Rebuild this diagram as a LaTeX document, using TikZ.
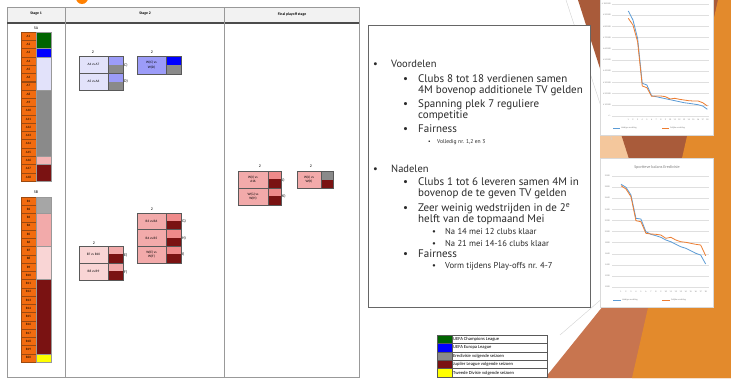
\documentclass[tikz,border=0pt]{standalone}
\usepackage{fontspec}
\setmainfont{Carlito}
\newfontfamily\slidefont{PT Sans}
\definecolor{cellor}{HTML}{F26B0F}
\definecolor{cellorb}{HTML}{9C4A10}
\definecolor{clgreen}{HTML}{006400}
\definecolor{elblue}{HTML}{0000FF}
\definecolor{lav}{HTML}{E2E2FA}
\definecolor{midgray}{HTML}{8A8A8A}
\definecolor{lgray}{HTML}{A6A6A6}
\definecolor{pinkA}{HTML}{F4B4B4}
\definecolor{dred}{HTML}{7A1212}
\definecolor{lpink}{HTML}{F9D5D5}
\definecolor{mpink}{HTML}{F2AAAA}
\definecolor{salmon}{HTML}{EF8A8A}
\definecolor{purp}{HTML}{9C9CF8}
\definecolor{yel}{HTML}{FFFF00}
\definecolor{hdr}{HTML}{F2F2F2}
\definecolor{cblue}{HTML}{5B9BD5}
\definecolor{corange}{HTML}{ED7D31}
\definecolor{bgorange}{HTML}{E38A2C}
\definecolor{bgbrown}{HTML}{A95B3A}
\definecolor{bgbrown2}{HTML}{C8754F}
\definecolor{bgpeach}{HTML}{F4C79C}
\definecolor{txt}{HTML}{2A2A2A}
\tikzset{
  cellbox/.style={draw=cellorb, fill=cellor, line width=0.4, minimum width=15pt, minimum height=8.2pt, inner sep=0pt, font=\fontsize{3.3}{4}\selectfont},
  colbox/.style={draw=gray!80, line width=0.3},
  matchcell/.style={inner sep=0pt, align=center, font=\fontsize{3.4}{4.2}\selectfont},
  frame/.style={draw=gray!70!black, line width=0.6},
  tiny/.style={inner sep=0pt, font=\fontsize{4}{5}\selectfont},
  hdrtext/.style={inner sep=0pt, font=\bfseries\fontsize{3.8}{4.5}\selectfont},
  lone/.style={inner sep=0pt, anchor=base west, text=txt, font=\slidefont\fontsize{10.5}{13}\selectfont},
  ltwo/.style={inner sep=0pt, anchor=base west, text=txt, font=\slidefont\fontsize{11}{12}\selectfont},
  lthree/.style={inner sep=0pt, anchor=base west, text=txt, font=\slidefont\fontsize{8.6}{9}\selectfont},
  lsmall/.style={inner sep=0pt, anchor=base west, text=txt, font=\slidefont\fontsize{5.6}{7}\selectfont},
  legtext/.style={inner sep=0pt, anchor=west, font=\fontsize{4.6}{5.5}\selectfont},
  axlab/.style={inner sep=0pt, text=gray, font=\fontsize{2.2}{2.6}\selectfont},
  grid/.style={draw=gray!25, line width=0.3},
  bl/.style={draw=cblue, line width=0.8, line join=round},
  ol/.style={draw=corange, line width=0.8, line join=round}
}
\begin{document}
\begin{tikzpicture}[x=1pt,y=-1pt]
\useasboundingbox (0,0) rectangle (731,378);
\fill[white] (0,0) rectangle (731,378);
% background decoration
\fill[bgpeach] (600,95) -- (645,95) -- (640,210) -- (600,210) -- cycle;
\fill[bgbrown2] (545,378) -- (620,285) -- (690,150) -- (731,150) -- (731,378) -- cycle;
\fill[bgbrown] (578,0) -- (720,0) -- (696,162) -- (630,162) -- cycle;
\fill[bgorange] (718,0) -- (731,0) -- (731,378) -- (632,378) -- cycle;
\draw[gray!35, line width=0.4] (566,0) -- (612,140);
\draw[gray!35, line width=0.4] (560,335) -- (612,290);
\fill[orange] (82,-2) circle (6);

% ---------- table ----------
\fill[hdr] (7,7) rectangle (359,22);
\draw[gray!80, line width=0.8] (7,7) rectangle (359,377);
\draw[gray!60!black, line width=1.6] (7,23) -- (359,23);
\draw[gray!80, line width=0.8] (65,7) -- (65,377) (224,7) -- (224,377);
\node[hdrtext] (h1) at (36,14) {Stage 1};
\node[hdrtext] (h2) at (145,14) {Stage 2};
\node[hdrtext] (h3) at (292,14) {Final playoff stage};

% column A
\node[tiny] (labA) at (36,28.5) {5A};
\foreach \i in {1,...,18}{
  \pgfmathsetmacro{\yc}{32+(\i-0.5)*8.28}
  \node[cellbox] (A\i) at (28.5,\yc) {A\i};
}
\filldraw[colbox, fill=clgreen] (36,32) rectangle (51,48.56);
\filldraw[colbox, fill=elblue] (36,48.56) rectangle (51,56.84);
\filldraw[colbox, fill=lav] (36,56.84) rectangle (51,89.96);
\filldraw[colbox, fill=midgray] (36,89.96) rectangle (51,156.2);
\filldraw[colbox, fill=pinkA] (36,156.2) rectangle (51,164.48);
\filldraw[colbox, fill=dred] (36,164.48) rectangle (51,181.04);

% column B
\node[tiny] (labB) at (36,192) {5B};
\foreach \i in {1,...,20}{
  \pgfmathsetmacro{\yc}{197+(\i-0.5)*8.25}
  \node[cellbox, minimum height=8.15pt] (B\i) at (28.5,\yc) {B\i};
}
\filldraw[colbox, fill=lgray] (36,197) rectangle (51,213.5);
\filldraw[colbox, fill=mpink] (36,213.5) rectangle (51,246.5);
\filldraw[colbox, fill=lpink] (36,246.5) rectangle (51,279.5);
\filldraw[colbox, fill=dred] (36,279.5) rectangle (51,353.75);
\filldraw[colbox, fill=yel] (36,353.75) rectangle (51,362);

% ---------- stage 2: A group ----------
\node[tiny] (n1) at (93,52) {2};
\node[matchcell, fill=lav, minimum width=29pt, minimum height=17pt] (m1a) at (93.5,64.5) {A4 vs A7};
\node[matchcell, fill=lav, minimum width=29pt, minimum height=17pt] (m1b) at (93.5,81.5) {A5 vs A6};
\fill[purp] (108,56) rectangle (123,65);
\fill[midgray] (108,65) rectangle (123,73);
\fill[purp] (108,73) rectangle (123,82);
\fill[midgray] (108,82) rectangle (123,90);
\draw[frame] (79,56) rectangle (123,90) (79,73) -- (123,73) (108,56) -- (108,90);
\node[tiny, anchor=west] (lc) at (124,65) {C)};
\node[tiny, anchor=west] (ld) at (124,81) {D)};

\node[tiny] (n2) at (152,52) {2};
\node[matchcell, fill=purp, minimum width=29pt, minimum height=18pt] (m2) at (151.5,65) {W(C) vs\\W(D)};
\fill[elblue] (166,56) rectangle (181,65);
\fill[midgray] (166,65) rectangle (181,74);
\draw[frame] (137,56) rectangle (181,74) (166,56) -- (166,74);

% ---------- stage 2: B group ----------
\node[tiny] (n3) at (94,243) {2};
\node[matchcell, fill=lpink, minimum width=29pt, minimum height=17pt] (m3a) at (93.5,254.5) {B7 vs B10};
\node[matchcell, fill=lpink, minimum width=29pt, minimum height=17pt] (m3b) at (93.5,271.5) {B8 vs B9};
\fill[mpink] (108,246) rectangle (123,254);
\fill[dred] (108,254) rectangle (123,263);
\fill[mpink] (108,263) rectangle (123,271);
\fill[dred] (108,271) rectangle (123,280);
\draw[frame] (79,246) rectangle (123,280) (79,263) -- (123,263) (108,246) -- (108,280);
\node[tiny, anchor=west] (le) at (124,255) {E)};
\node[tiny, anchor=west] (lf) at (124,272) {F)};

\node[tiny] (n4) at (152,209) {2};
\node[matchcell, fill=mpink, minimum width=29pt, minimum height=16.7pt] (m4a) at (151.5,221.3) {B3 vs B6};
\node[matchcell, fill=mpink, minimum width=29pt, minimum height=16.7pt] (m4b) at (151.5,238) {B4 vs B5};
\node[matchcell, fill=mpink, minimum width=29pt, minimum height=16.7pt] (m4c) at (151.5,254.7) {W(E) vs\\W(F)};
\fill[salmon] (166,213) rectangle (181,221);
\fill[dred] (166,221) rectangle (181,229.7);
\fill[salmon] (166,229.7) rectangle (181,237.7);
\fill[dred] (166,237.7) rectangle (181,246.3);
\fill[salmon] (166,246.3) rectangle (181,254.3);
\fill[dred] (166,254.3) rectangle (181,263);
\draw[frame] (137,213) rectangle (181,263) (137,229.7) -- (181,229.7) (137,246.3) -- (181,246.3) (166,213) -- (166,263);
\node[tiny, anchor=west] (lg) at (182,221) {G)};
\node[tiny, anchor=west] (lh) at (182,238) {H)};
\node[tiny, anchor=west] (li) at (182,254) {I)};

% ---------- final playoff stage ----------
\node[tiny] (n5) at (260,166) {2};
\node[matchcell, fill=mpink, minimum width=30pt, minimum height=17pt] (m5a) at (253,179.5) {W(I) vs\\A16};
\node[matchcell, fill=mpink, minimum width=30pt, minimum height=17pt] (m5b) at (253,196.5) {W(G) vs\\W(H)};
\fill[salmon] (268,171) rectangle (281,179);
\fill[dred] (268,179) rectangle (281,188);
\fill[salmon] (268,188) rectangle (281,196);
\fill[dred] (268,196) rectangle (281,205);
\draw[frame] (238,171) rectangle (281,205) (238,188) -- (281,188) (268,171) -- (268,205);
\node[tiny, anchor=west] (lj) at (282,180) {J)};
\node[tiny, anchor=west] (lk) at (282,196) {K)};

\node[tiny] (n6) at (311,166) {2};
\node[matchcell, fill=mpink, minimum width=24pt, minimum height=17pt] (m6) at (309,179.5) {W(J) vs\\W(K)};
\fill[midgray] (321,171) rectangle (333,179.5);
\fill[dred] (321,179.5) rectangle (333,188);
\draw[frame] (297,171) rectangle (333,188) (321,171) -- (321,188);

% ---------- text box ----------
\filldraw[fill=white, draw=gray!80!black, line width=0.8] (368,25) rectangle (590,307);
\node[lone] (b1) at (373,67) {•};
\node[lone] (t1) at (391,67) {Voordelen};
\node[ltwo] (b2) at (403,82) {•};
\node[ltwo] (t2) at (418,82) {Clubs 8 tot 18 verdienen samen};
\node[ltwo] (t3) at (418,93) {4M bovenop additionele TV gelden};
\node[ltwo] (b4) at (403,107) {•};
\node[ltwo] (t4) at (418,107) {Spanning plek 7 reguliere};
\node[ltwo] (t5) at (418,118) {competitie};
\node[ltwo] (b6) at (403,132) {•};
\node[ltwo] (t6) at (418,132) {Fairness};
\node[lsmall] (b7) at (428,143) {•};
\node[lsmall] (t7) at (437,143) {Volledig nr. 1,2 en 3};

\node[lone] (b8) at (373,172) {•};
\node[lone] (t8) at (391,172) {Nadelen};
\node[ltwo] (b9) at (403,185) {•};
\node[ltwo] (t9) at (418,185) {Clubs 1 tot 6 leveren samen 4M in};
\node[ltwo] (t10) at (418,196) {bovenop de te geven TV gelden};
\node[ltwo] (b11) at (403,211) {•};
\node[ltwo] (t11) at (418,211) {Zeer weinig wedstrijden in de 2\textsuperscript{e}};
\node[ltwo] (t12) at (418,222) {helft van de topmaand Mei};
\node[lthree] (b13) at (432,234) {•};
\node[lthree] (t13) at (445,234) {Na 14 mei 12 clubs klaar};
\node[lthree] (b14) at (432,246) {•};
\node[lthree] (t14) at (445,246) {Na 21 mei 14-16 clubs klaar};
\node[ltwo] (b15) at (403,257) {•};
\node[ltwo] (t15) at (418,257) {Fairness};
\node[lthree] (b16) at (432,268) {•};
\node[lthree] (t16) at (445,268) {Vorm tijdens Play-offs nr. 4-7};

% ---------- legend ----------
\fill[white] (437,335) rectangle (547,380);
\foreach \k/\c/\t in {0/clgreen/UEFA Champions League,1/elblue/UEFA Europa League,2/midgray/Eredivisie volgende seizoen,3/dred/Jupiler League volgende seizoen,4/yel/Tweede Divisie volgende seizoen}{
  \fill[\c] (437,335+\k*8.4) rectangle (452,335+\k*8.4+8.4);
  \draw[gray!70!black, line width=0.4] (437,335+\k*8.4) rectangle (547,335+\k*8.4+8.4) (452,335+\k*8.4) -- (452,335+\k*8.4+8.4);
  \node[legtext] (lg\k) at (453,335+\k*8.4+4.2) {\t};
}

% ---------- chart 1 ----------
\filldraw[fill=white, draw=gray!30, line width=0.3] (600,-2) rectangle (713,135);
\foreach \k/\l in {0/{€ 100.000},1/{€ 90.000},2/{€ 80.000},3/{€ 70.000},4/{€ 60.000},5/{€ 50.000},6/{€ 40.000},7/{€ 30.000},8/{€ 20.000},9/{€ 10.000},10/{€ -}}{
  \draw[grid] (612,4+\k*11.2) -- (709,4+\k*11.2);
  \node[axlab, anchor=east] (ya\k) at (611,4+\k*11.2) {\l};
}
\foreach \i in {1,...,18}{
  \node[axlab] (xa\i) at (628.3+\i*4.65-4.65,120) {\i};
}
\draw[bl] plot coordinates {(628.3,11) (632.95,20) (637.6,38.3) (642.25,83.3) (646.9,85) (651.55,95.7) (656.2,96.7) (660.85,97.7) (665.5,98.7) (670.15,99.7) (674.8,100.7) (679.45,101.7) (684.1,102.7) (688.75,103.3) (693.4,104) (698.05,104.7) (702.7,106) (707.35,109.3)};
\draw[ol] plot coordinates {(628.3,18.3) (632.95,25) (637.6,41.7) (642.25,86) (646.9,87.7) (651.55,96.3) (656.2,96) (660.85,96) (665.5,96.7) (670.15,99) (674.8,98.3) (679.45,99.3) (684.1,100) (688.75,100.7) (693.4,101) (698.05,101) (702.7,102.7) (707.35,106)};
\draw[bl] (613,128) -- (620,128);
\node[axlab, anchor=west] (lga) at (621,128) {Huidige verdeling};
\draw[ol] (662,128) -- (669,128);
\node[axlab, anchor=west] (lgb) at (670,128) {Gelijke verdeling};

% ---------- chart 2 ----------
\filldraw[fill=white, draw=gray!30, line width=0.3] (600,158) rectangle (713,307);
\node[inner sep=0pt, text=gray, font=\fontsize{4.2}{5}\selectfont] (ct2) at (657,167) {Sportieve balans Eredivisie};
\foreach \k/\l in {0/{3.000},1/{2.800},2/{2.600},3/{2.400},4/{2.200},5/{2.000},6/{1.800},7/{1.600},8/{1.400},9/{1.200},10/{1.000}}{
  \draw[grid] (612,176+\k*11.1) -- (709,176+\k*11.1);
  \node[axlab, anchor=east] (yb\k) at (610,176+\k*11.1) {\l};
}
\foreach \i in {1,...,18}{
  \node[axlab] (xb\i) at (621+\i*4.98-4.98,292) {\i};
}
\draw[bl] plot coordinates {(621,184.3) (625.98,187.3) (630.96,195) (635.94,218.3) (640.92,219) (645.9,231.7) (650.88,234.3) (655.86,235.7) (660.84,237.3) (665.82,240) (670.8,241.7) (675.78,244.3) (680.76,246.7) (685.74,248.3) (690.72,250.7) (695.7,253.3) (700.68,255) (705.66,264)};
\draw[ol] plot coordinates {(621,185.7) (625.98,189) (630.96,196.7) (635.94,220.7) (640.92,221.7) (645.9,233.3) (650.88,234) (655.86,234.3) (660.84,235) (665.82,238.3) (670.8,237.3) (675.78,240) (680.76,241.7) (685.74,242.3) (690.72,243.3) (695.7,244.3) (700.68,245) (705.66,255.7)};
\draw[bl] (613,300) -- (621,300);
\node[axlab, anchor=west] (lgc) at (622,300) {Huidige verdeling};
\draw[ol] (662,300) -- (670,300);
\node[axlab, anchor=west] (lgd) at (671,300) {Gelijke verdeling};
\end{tikzpicture}
\end{document}
